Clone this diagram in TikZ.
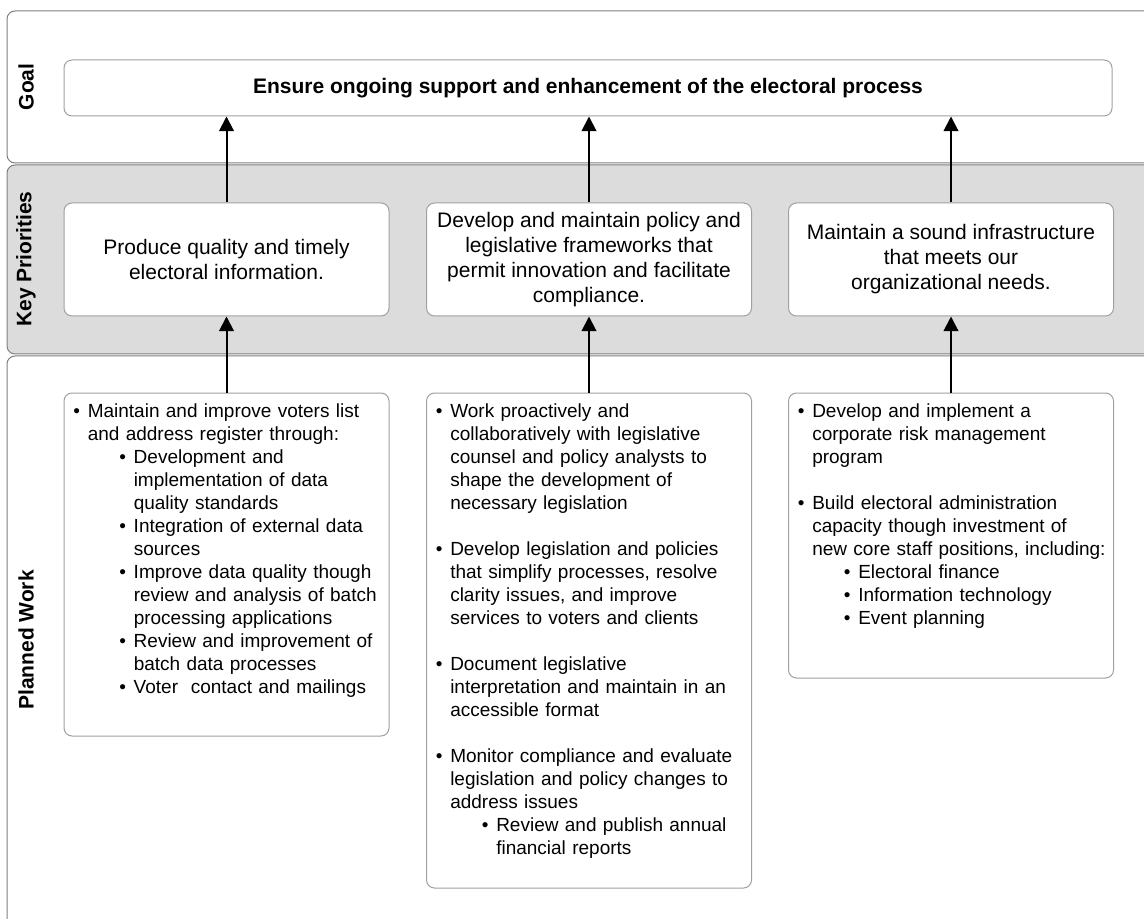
\documentclass[tikz,border=0pt]{standalone}
\usepackage{fontspec}
\setmainfont{Liberation Sans}
\usetikzlibrary{arrows.meta,calc}
\definecolor{lanegray}{HTML}{DCDCDC}
\definecolor{laneline}{HTML}{808080}
\definecolor{boxline}{HTML}{A0A0A0}
\newcommand\itm[2]{\leftskip=#1\relax\leavevmode\llap{\textbullet\hspace{5.8pt}}#2\par}
\newcommand\itmgap{\vskip17.25pt}
\begin{document}
\begin{tikzpicture}[x=0.75pt,y=-0.75pt,
  lane/.style={draw=laneline, line width=0.75pt, rounded corners=6pt},
  box/.style={draw=boxline, line width=0.75pt, fill=white, rounded corners=6pt, inner sep=0pt},
  lanelabel/.style={rotate=90, inner sep=0pt, font=\bfseries\fontsize{15.75pt}{18.75pt}\selectfont},
  kptext/.style={align=center, font=\fontsize{15.75pt}{18.75pt}\selectfont},
  pwtext/.style={anchor=base west, inner sep=0pt, text width=240pt, align=left, font=\fontsize{14.25pt}{17.25pt}\selectfont},
  up/.style={-{Triangle[width=11pt,length=11pt]}, line width=1.5pt, black}
]
\useasboundingbox (0,0) rectangle (1144,919);
\clip (0,0) rectangle (1144,919);
% lanes
\draw[lane, fill=white] (7,11) rectangle (1170,163);
\draw[lane, fill=lanegray] (7,165) rectangle (1170,354);
\draw[lane, fill=white] (7,356) rectangle (1170,940);
\node[lanelabel] (lgoal) at (26,87) {Goal};
\node[lanelabel] (lkp) at (26,259) {Key Priorities};
\node[lanelabel] (lpw) at (26,640) {Planned Work};
% goal
\node[box, minimum width=786pt, minimum height=42pt, font=\bfseries\fontsize{15.75pt}{18.75pt}\selectfont] (goal) at (588,88) {Ensure ongoing support and enhancement of the electoral process};
% key priorities
\node[box, kptext, minimum width=243.75pt, minimum height=84.75pt] (kp1) at (226.5,259.5) {Produce quality and timely\\electoral information.};
\node[box, kptext, minimum width=243.75pt, minimum height=84.75pt] (kp2) at (589,259.5) {Develop and maintain policy and\\legislative frameworks that\\permit innovation and facilitate\\compliance.};
\node[box, kptext, minimum width=243.75pt, minimum height=84.75pt] (kp3) at (951,259.5) {Maintain a sound infrastructure\\that meets our\\organizational needs.};
% planned work boxes
\node[box, minimum width=243.75pt, minimum height=257.25pt] (pw1) at (226.5,564.5) {};
\node[box, minimum width=243.75pt, minimum height=371.25pt] (pw2) at (589,640.5) {};
\node[box, minimum width=243.75pt, minimum height=213.75pt] (pw3) at (951,535.5) {};
\node[pwtext] (pw1t) at ($(pw1.north west)+(24,25)$) {%
\itm{0pt}{Maintain and improve voters list\\and address register through:}%
\itm{34.5pt}{Development and\\implementation of data\\quality standards}%
\itm{34.5pt}{Integration of external data\\sources}%
\itm{34.5pt}{Improve data quality though\\review and analysis of batch\\processing applications}%
\itm{34.5pt}{Review and improvement of\\batch data processes}%
\itm{34.5pt}{Voter~ contact and mailings}};
\node[pwtext] (pw2t) at ($(pw2.north west)+(24,25)$) {%
\itm{0pt}{Work proactively and\\collaboratively with legislative\\counsel and policy analysts to\\shape the development of\\necessary legislation}%
\itmgap
\itm{0pt}{Develop legislation and policies\\that simplify processes, resolve\\clarity issues, and improve\\services to voters and clients}%
\itmgap
\itm{0pt}{Document legislative\\interpretation and maintain in an\\accessible format}%
\itmgap
\itm{0pt}{Monitor compliance and evaluate\\legislation and policy changes to\\address issues}%
\itm{34.5pt}{Review and publish annual\\financial reports}};
\node[pwtext] (pw3t) at ($(pw3.north west)+(24,25)$) {%
\itm{0pt}{Develop and implement a\\corporate risk management\\program}%
\itmgap
\itm{0pt}{Build electoral administration\\capacity though investment of\\new core staff positions, including:}%
\itm{34.5pt}{Electoral finance}%
\itm{34.5pt}{Information technology}%
\itm{34.5pt}{Event planning}};
% arrows
\draw[up] (pw1.north) -- (kp1.south);
\draw[up] (pw2.north) -- (kp2.south);
\draw[up] (pw3.north) -- (kp3.south);
\draw[up] (kp1.north) -- (goal.south -| kp1.north);
\draw[up] (kp2.north) -- (goal.south -| kp2.north);
\draw[up] (kp3.north) -- (goal.south -| kp3.north);
\end{tikzpicture}
\end{document}
